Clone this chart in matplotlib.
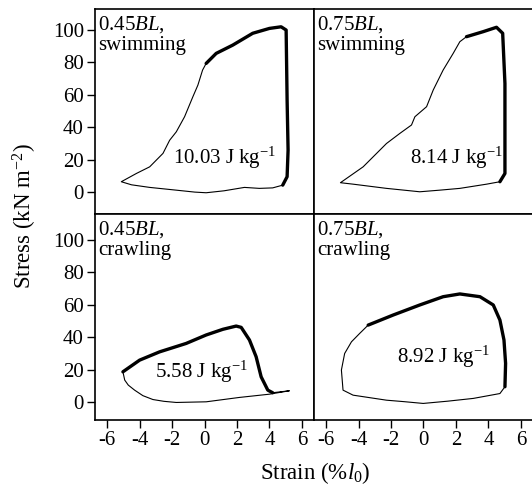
import matplotlib
matplotlib.use("Agg")
import matplotlib.pyplot as plt

plt.rcParams["font.family"] = "Liberation Serif"
plt.rcParams["mathtext.fontset"] = "custom"
plt.rcParams["mathtext.rm"] = "Liberation Serif"
plt.rcParams["mathtext.it"] = "Liberation Serif:italic"
plt.rcParams["axes.unicode_minus"] = False

# -- Work loops (strain %l0, stress kN m-2) --
# thin = passive part of the loop, thick = active (stimulated) part
sw45_thin_x = [4.82, 4.2, 3.38, 2.46, 1.2, 0.1, -0.6, -1.74, -3.38, -4.5, -5.13,
               -4.2, -3.38, -2.56, -2.15, -1.74, -1.23, -0.72, -0.41, -0.12, 0.1]
sw45_thin_y = [4.3, 2.6, 2.3, 2.9, 0.8, -0.4, 0.0, 1.2, 2.9, 4.5, 6.4,
               11.5, 15.6, 23.9, 32.0, 37.2, 46.5, 58.8, 66.0, 75.3, 79.4]
sw45_thick_x = [0.1, 0.72, 1.74, 2.97, 4.0, 4.72, 5.03, 5.09, 5.15, 5.09, 4.82]
sw45_thick_y = [79.4, 85.6, 90.7, 98.0, 101.0, 102.0, 100.0, 56.8, 25.9, 9.5, 4.3]

sw75_thin_x = [4.71, 3.89, 2.24, 1.0, -0.23, -1.2, -2.28, -4.34, -5.12, -3.72,
               -2.28, -1.46, -0.74, -0.53, 0.19, 0.6, 1.21, 1.83, 2.24, 2.65]
sw75_thin_y = [6.4, 4.9, 2.3, 1.2, 0.2, 1.2, 2.3, 4.9, 5.8, 15.6,
               30.0, 36.2, 41.4, 46.5, 52.7, 63.0, 75.3, 85.6, 92.8, 95.9]
sw75_thick_x = [2.65, 3.68, 4.5, 4.88, 5.02, 5.02, 5.02, 4.71]
sw75_thick_y = [95.9, 99.0, 101.7, 98.0, 67.0, 36.2, 11.5, 6.4]

cr45_thin_x = [4.2, 5.23, 4.0, 2.15, 0.1, -1.74, -2.5, -3.18, -3.8, -4.31, -4.7, -4.92, -5.03]
cr45_thin_y = [5.8, 7.0, 4.9, 2.9, 0.2, -0.2, 0.5, 1.6, 4.0, 7.4, 10.5, 13.6, 18.7]
cr45_thick_x = [-5.03, -4.0, -2.77, -1.13, 0.1, 1.13, 1.95, 2.26, 2.77, 3.18, 3.49, 3.9, 4.2]
cr45_thick_y = [18.7, 25.9, 31.0, 36.2, 41.4, 44.9, 46.9, 46.1, 38.3, 28.0, 15.6, 7.4, 5.8]

cr75_thin_x = [5.02, 4.71, 3.07, 1.5, -0.02, -1.2, -2.28, -4.34, -4.96, -5.06, -4.86, -4.44, -3.93, -3.41]
cr75_thin_y = [9.5, 5.3, 2.3, 0.6, -0.8, 0.3, 1.2, 4.3, 7.4, 19.8, 30.0, 37.2, 42.4, 47.5]
cr75_thick_x = [-3.41, -1.87, -0.23, 1.21, 2.24, 3.48, 4.3, 4.71, 4.96, 5.06, 5.02]
cr75_thick_y = [47.5, 53.7, 59.9, 65.0, 66.7, 65.0, 59.9, 50.6, 38.3, 23.9, 9.5]

panel_labels = ["0.45$\\it{BL}$,\nswimming", "0.75$\\it{BL}$,\nswimming",
                "0.45$\\it{BL}$,\ncrawling", "0.75$\\it{BL}$,\ncrawling"]
work_labels = ["10.03 J kg$^{-1}$", "8.14 J kg$^{-1}$", "5.58 J kg$^{-1}$", "8.92 J kg$^{-1}$"]
work_pos = [(4.4, 21), (4.9, 21), (2.7, 18.5), (4.1, 28)]

x_ticks = [-6, -4, -2, 0, 2, 4, 6]
y_ticks = [0, 20, 40, 60, 80, 100]

loops = [
    (sw45_thin_x, sw45_thin_y, sw45_thick_x, sw45_thick_y),
    (sw75_thin_x, sw75_thin_y, sw75_thick_x, sw75_thick_y),
    (cr45_thin_x, cr45_thin_y, cr45_thick_x, cr45_thick_y),
    (cr75_thin_x, cr75_thin_y, cr75_thick_x, cr75_thick_y),
]

fig = plt.figure(figsize=(5.32, 4.9), dpi=100)
W = 0.4117
rects = [
    [0.1786, 0.5633, W, 0.4184],
    [0.5902, 0.5633, W, 0.4184],
    [0.1786, 0.1429, W, 0.4204],
    [0.5902, 0.1429, W, 0.4204],
]
ylims = [(-13.5, 113), (-13.5, 113), (-11, 116), (-11, 116)]

for i, rect in enumerate(rects):
    ax = fig.add_axes(rect)
    tx, ty, kx, ky = loops[i]
    ax.plot(tx, ty, color="black", linewidth=0.8, solid_joinstyle="round")
    ax.plot(kx, ky, color="black", linewidth=2.4, solid_capstyle="round",
            solid_joinstyle="round")
    ax.set_xlim(-6.75, 6.75)
    ax.set_ylim(*ylims[i])
    ax.text(0.015, 0.975, panel_labels[i], transform=ax.transAxes, ha="left",
            va="top", fontsize=15, linespacing=1.05)
    wx, wy = work_pos[i]
    ax.text(wx, wy, work_labels[i], ha="right", va="center", fontsize=15)
    for sp in ax.spines.values():
        sp.set_linewidth(1.2)
    ax.tick_params(direction="out", length=6, width=1, labelsize=15, pad=2)
    if i % 2 == 0:
        ax.set_yticks(y_ticks)
    else:
        ax.set_yticks([])
    if i >= 2:
        ax.set_xticks(x_ticks)
    else:
        ax.set_xticks([])

fig.text(0.047, 0.559, "Stress (kN m$^{-2}$)", rotation=90, ha="center",
         va="center", fontsize=16.5)
fig.text(0.592, 0.034, "Strain (%$\\it{l}_0$)", ha="center", va="center",
         fontsize=16.5)

fig.savefig("out.png", dpi=100)
